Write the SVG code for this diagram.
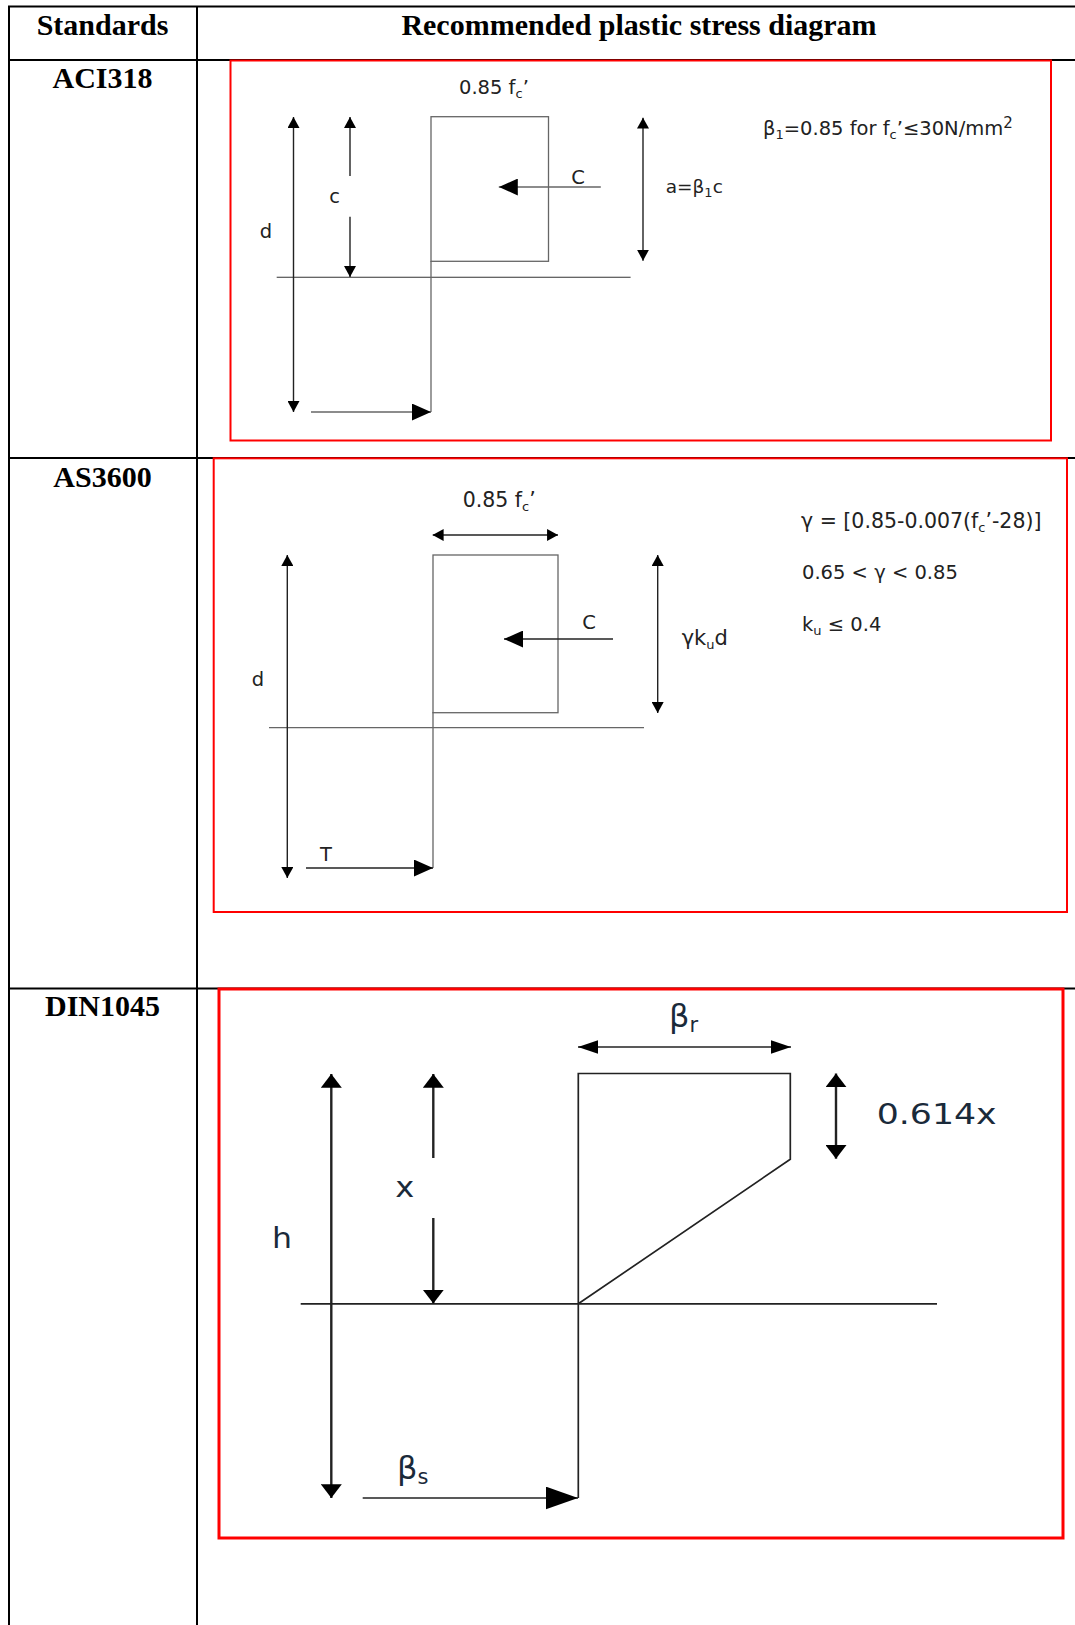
<svg xmlns="http://www.w3.org/2000/svg" width="1075" height="1625" viewBox="0 0 1075 1625">
<style>
.tb{fill:none;stroke:#000;stroke-width:2}
.red{fill:none;stroke:#f00;stroke-width:2}
.red3{fill:none;stroke:#f00;stroke-width:3}
.ln{fill:none;stroke:#333;stroke-width:1.1}
.gr{fill:none;stroke:#666;stroke-width:1.3}
.dim{fill:none;stroke:#222;stroke-width:1.4}
.din{fill:none;stroke:#222;stroke-width:1.7}
.din2{fill:none;stroke:#222;stroke-width:2.4}
.h{font-family:"Liberation Serif","Times New Roman",serif;font-weight:bold;font-size:30px;text-anchor:middle;fill:#000}
.t{font-family:"DejaVu Sans",Verdana,sans-serif;font-size:19.5px;fill:#222}
.b{font-family:"DejaVu Sans",Verdana,sans-serif;font-size:28px;fill:#1a2a3a}
.bb{font-size:32px}
.m{text-anchor:middle}
.s{font-size:13px}
.bs{font-size:21px}
</style>
<defs>
<marker id="a1" markerUnits="userSpaceOnUse" markerWidth="11" markerHeight="12" viewBox="0 0 10 11" refX="10" refY="5.5" orient="auto-start-reverse"><path d="M0 0L10 5.5L0 11Z" fill="#000"/></marker>
<marker id="a2" markerUnits="userSpaceOnUse" markerWidth="19" markerHeight="17" viewBox="0 0 18 16" refX="18" refY="8" orient="auto-start-reverse"><path d="M0 0L18 8L0 16Z" fill="#000"/></marker>
<marker id="a3" markerUnits="userSpaceOnUse" markerWidth="14" markerHeight="21" viewBox="0 0 13 20" refX="13" refY="10" orient="auto-start-reverse"><path d="M0 0L13 10L0 20Z" fill="#000"/></marker>
<marker id="a4" markerUnits="userSpaceOnUse" markerWidth="20" markerHeight="14" viewBox="0 0 19 13" refX="19" refY="6.5" orient="auto-start-reverse"><path d="M0 0L19 6.5L0 13Z" fill="#000"/></marker>
<marker id="a5" markerUnits="userSpaceOnUse" markerWidth="32" markerHeight="23" viewBox="0 0 31 22" refX="31" refY="11" orient="auto-start-reverse"><path d="M0 0L31 11L0 22Z" fill="#000"/></marker>
</defs>
<rect width="1075" height="1625" fill="#fff"/>
<g id="table">
<path class="tb" d="M1075 6.500H9V1625M197 6.500V1625M9 60H1075M9 458H1075M9 988.500H1075"/>
<text class="h" x="102.500" y="35">Standards</text>
<text class="h" x="639" y="35">Recommended plastic stress diagram</text>
<text class="h" x="102.500" y="87.500">ACI318</text>
<text class="h" x="102.500" y="486.500">AS3600</text>
<text class="h" x="102.500" y="1016">DIN1045</text>
</g>
<g id="aci318">
<rect class="red" x="230.500" y="60.500" width="820.500" height="380"/>
<rect class="gr" x="431" y="116.700" width="117.500" height="144.600"/>
<path class="ln" d="M276.700 277.300H630.600"/>
<path class="gr" d="M431 261V412"/>
<text class="t" x="459" y="94">0.85 f<tspan class="s" dy="4">c</tspan><tspan dy="-4">’</tspan></text>
<text class="t m" x="578" y="184">C</text>
<text class="t m" x="334.700" y="203">c</text>
<text class="t m" x="266" y="238">d</text>
<text class="t" style="font-size:18.500px" x="665.700" y="192.700">a=β<tspan class="s" dy="4">1</tspan><tspan dy="-4">c</tspan></text>
<text class="t" x="763" y="135">β<tspan class="s" dy="4">1</tspan><tspan dy="-4">=0.85 for f</tspan><tspan class="s" dy="4">c</tspan><tspan dy="-4">’≤30N/mm</tspan><tspan style="font-size:15px" dy="-7">2</tspan></text>
</g>
<g id="as3600">
<rect class="red" x="213.700" y="458.300" width="853.300" height="453.700"/>
<rect class="gr" x="433" y="555" width="125" height="157.700"/>
<path class="gr" d="M269 727.700H644M433 712V868"/>
<text class="t" style="font-size:20.500px" x="462.700" y="506.700">0.85 f<tspan class="s" dy="4">c</tspan><tspan dy="-4">’</tspan></text>
<text class="t m" x="589" y="629">C</text>
<text class="t m" x="258" y="685.700">d</text>
<text class="t m" x="326" y="860.700">T</text>
<text class="t" style="font-size:21px" x="681.700" y="645">γk<tspan class="s" dy="4">u</tspan><tspan dy="-4">d</tspan></text>
<text class="t" style="font-size:20.500px" x="801" y="528.300">γ = [0.85-0.007(f<tspan class="s" dy="4">c</tspan><tspan dy="-4">’-28)]</tspan></text>
<text class="t" x="802" y="579.300">0.65 &lt; γ &lt; 0.85</text>
<text class="t" x="802" y="630.700">k<tspan class="s" dy="4">u</tspan><tspan dy="-4"> ≤ 0.4</tspan></text>
</g>
<g id="din1045">
<rect class="red3" x="219" y="989" width="844" height="549"/>
<path class="din" d="M578.300 1498V1073.500H790.300V1159.300L578.300 1303.800"/>
<path class="din" d="M300.700 1303.800H937"/>
<text class="b bb" x="669" y="1027">β<tspan class="bs" dy="5">r</tspan></text>
<text class="b" x="876.700" y="1124" textLength="120" lengthAdjust="spacingAndGlyphs">0.614x</text>
<text class="b m" x="404.700" y="1197" textLength="19" lengthAdjust="spacingAndGlyphs">x</text>
<text class="b m" x="282" y="1248" textLength="20" lengthAdjust="spacingAndGlyphs">h</text>
<text class="b bb" x="397" y="1479">β<tspan class="bs" dy="5">s</tspan></text>
</g>
<g id="connectors">
<path class="dim" d="M293.500 117V412" marker-start="url(#a1)" marker-end="url(#a1)"/>
<path class="dim" d="M350 117V176" marker-start="url(#a1)"/>
<path class="dim" d="M350 216.700V277" marker-end="url(#a1)"/>
<path class="gr" d="M311 412H431" marker-end="url(#a2)"/>
<path class="gr" d="M600.800 187H498.800" marker-end="url(#a2)"/>
<path class="dim" d="M643 117.700V260.700" marker-start="url(#a1)" marker-end="url(#a1)"/>
<path class="dim" d="M432.700 535H558" marker-start="url(#a1)" marker-end="url(#a1)"/>
<path class="dim" d="M287.300 555V878" marker-start="url(#a1)" marker-end="url(#a1)"/>
<path class="dim" d="M306 868H433" marker-end="url(#a2)"/>
<path class="dim" d="M613 639H504" marker-end="url(#a2)"/>
<path class="dim" d="M657.700 555V713" marker-start="url(#a1)" marker-end="url(#a1)"/>
<path class="din2" d="M331.300 1074V1498" marker-start="url(#a3)" marker-end="url(#a3)"/>
<path class="din2" d="M433.300 1074V1158" marker-start="url(#a3)"/>
<path class="din2" d="M433.300 1218V1303.500" marker-end="url(#a3)"/>
<path class="din" d="M578 1047H791" marker-start="url(#a4)" marker-end="url(#a4)"/>
<path class="din2" d="M836 1073.500V1158.700" marker-start="url(#a3)" marker-end="url(#a3)"/>
<path class="din" d="M362.700 1498H578" marker-end="url(#a5)"/>
</g>
</svg>
